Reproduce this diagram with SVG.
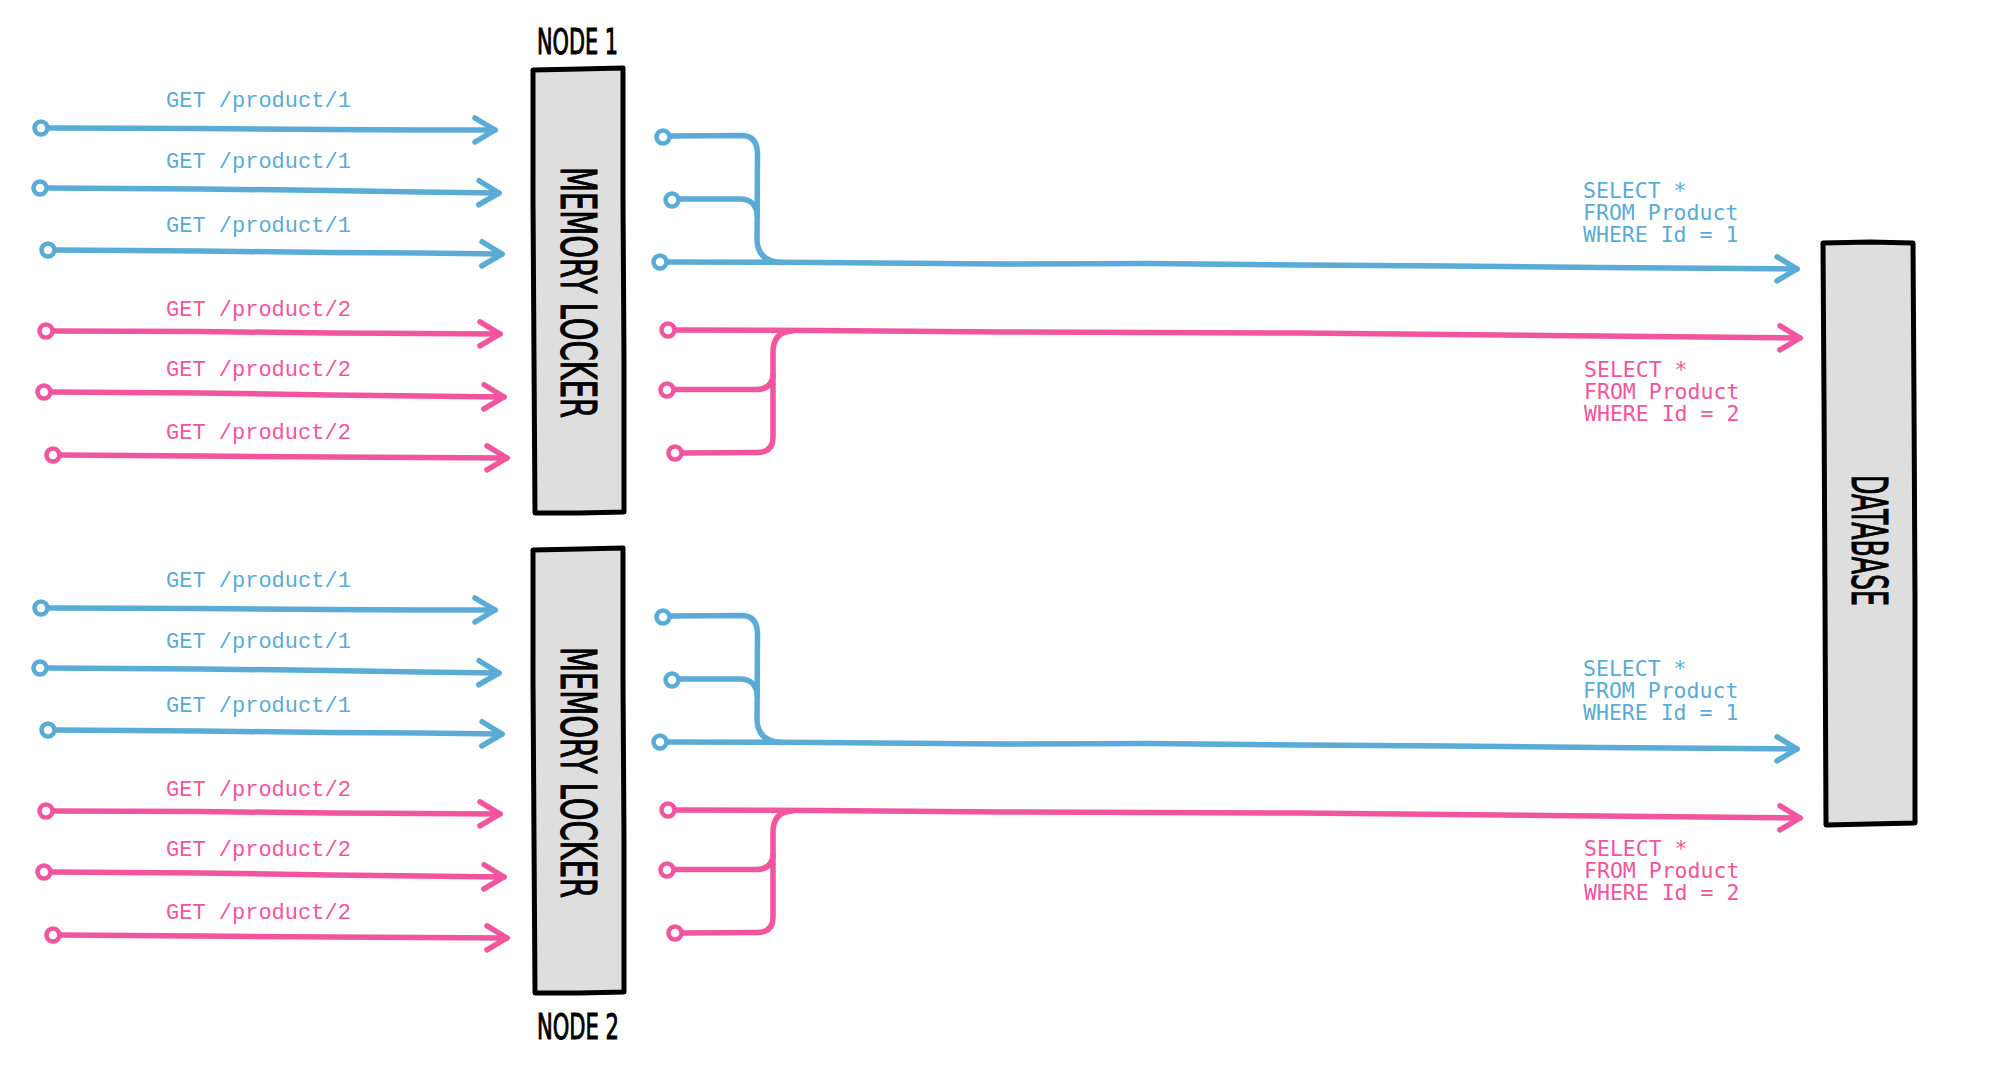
<svg xmlns="http://www.w3.org/2000/svg" width="2000" height="1067" viewBox="0 0 2000 1067">
<defs>
<style>
.b{stroke:#5aabd6}
.p{stroke:#f0559e}
.ln{fill:none;stroke-width:5.5;stroke-linecap:round;stroke-linejoin:round}
.dot{fill:#fff;stroke-width:4.5}
.box{fill:#dedede;stroke:#000;stroke-width:5;stroke-linejoin:round}
.get{font-family:"Liberation Mono","DejaVu Sans Mono",monospace;font-size:22px}
.sql{font-family:"DejaVu Sans Mono","Liberation Mono",monospace;font-size:21.5px}
.tb{fill:#5aabd6}
.tp{fill:#f0559e}
.hand{font-family:"DejaVu Sans","Liberation Sans",sans-serif;font-stretch:condensed;font-weight:normal;fill:#000;stroke:#000;stroke-width:1}
</style>
<marker id="ab" markerUnits="userSpaceOnUse" markerWidth="40" markerHeight="40" viewBox="-30 -20 40 40" refX="0" refY="0" orient="auto" overflow="visible">
<path d="M-20,-12 L0,0 L-20,12" fill="none" stroke="#5aabd6" stroke-width="5.5" stroke-linecap="round" stroke-linejoin="round"/>
</marker>
<marker id="ap" markerUnits="userSpaceOnUse" markerWidth="40" markerHeight="40" viewBox="-30 -20 40 40" refX="0" refY="0" orient="auto" overflow="visible">
<path d="M-20,-12 L0,0 L-20,12" fill="none" stroke="#f0559e" stroke-width="5.5" stroke-linecap="round" stroke-linejoin="round"/>
</marker>
</defs>
<rect width="2000" height="1067" fill="#fff"/>

<g id="node1">
<path class="box" d="M533,70 L580,69 L623,68 L623,200 L624,360 L624,512 L580,513 L535,513 L534,360 L533,200 Z"/>
<text class="hand" x="537" y="54" font-size="36" textLength="81" lengthAdjust="spacingAndGlyphs">NODE 1</text>
<text class="hand" transform="translate(561,292.5) rotate(90)" text-anchor="middle" font-size="49" textLength="251" lengthAdjust="spacingAndGlyphs">MEMORY LOCKER</text>
</g>

<g id="node2">
<path class="box" d="M533,550 L580,549 L623,548 L623,680 L624,840 L624,992 L580,993 L535,993 L534,840 L533,680 Z"/>
<text class="hand" x="537" y="1039" font-size="36" textLength="82" lengthAdjust="spacingAndGlyphs">NODE 2</text>
<text class="hand" transform="translate(561,772.5) rotate(90)" text-anchor="middle" font-size="49" textLength="251" lengthAdjust="spacingAndGlyphs">MEMORY LOCKER</text>
</g>

<g id="database">
<path class="box" d="M1823,243 L1870,242 L1913,243 L1914,400 L1915,600 L1915,823 L1870,824 L1826,825 L1825,600 L1824,400 Z"/>
<text class="hand" transform="translate(1852,540.5) rotate(90)" text-anchor="middle" font-size="49" textLength="131" lengthAdjust="spacingAndGlyphs">DATABASE</text>
</g>

<g id="connectors">
<g id="group1">
<path class="ln b" marker-end="url(#ab)" d="M48,128 L200,128.5 L330,129.5 L420,130 L495,130"/>
<path class="ln b" marker-end="url(#ab)" d="M47,188 L200,189 L330,190.5 L420,192 L499,193"/>
<path class="ln b" marker-end="url(#ab)" d="M55,250 L200,251 L330,252.5 L420,253 L502,254"/>
<path class="ln p" marker-end="url(#ap)" d="M53,331 L200,331.5 L330,333 L420,333.5 L500,334"/>
<path class="ln p" marker-end="url(#ap)" d="M51,392 L200,393 L330,395 L420,396 L504,397"/>
<path class="ln p" marker-end="url(#ap)" d="M60,455 L200,456 L330,457 L420,457.5 L507,458"/>
<circle class="dot b" cx="41" cy="128" r="6.5"/>
<circle class="dot b" cx="40" cy="188" r="6.5"/>
<circle class="dot b" cx="48" cy="250" r="6.5"/>
<circle class="dot p" cx="46" cy="331" r="6.5"/>
<circle class="dot p" cx="44" cy="392" r="6.5"/>
<circle class="dot p" cx="53" cy="455" r="6.5"/>
<text class="get tb" x="166" y="107">GET /product/1</text>
<text class="get tb" x="166" y="168">GET /product/1</text>
<text class="get tb" x="166" y="232">GET /product/1</text>
<text class="get tp" x="166" y="316">GET /product/2</text>
<text class="get tp" x="166" y="376">GET /product/2</text>
<text class="get tp" x="166" y="439">GET /product/2</text>

<path class="ln b" d="M670,136 L742,135.5 Q757,136 757.5,153 L757,240 Q758,262 782,262.5"/>
<path class="ln b" d="M679,199 L740,199 Q756,199 757.5,216"/>
<path class="ln b" marker-end="url(#ab)" d="M667,262 L820,262.5 L1000,264 L1150,263.5 L1300,265 L1450,266 L1600,267.5 L1797,269"/>
<path class="ln p" marker-end="url(#ap)" d="M675,330 L820,330.5 L1000,332 L1150,332.5 L1300,333 L1450,334.5 L1600,336 L1800,338"/>
<path class="ln p" d="M792,331 Q773,332 773,352 L773,437 Q773,452.5 757,452.5 L682,453"/>
<path class="ln p" d="M674,389.5 L757,389.5 Q772,389 773,375"/>
<circle class="dot b" cx="663" cy="137" r="6.5"/>
<circle class="dot b" cx="672" cy="200" r="6.5"/>
<circle class="dot b" cx="660" cy="262" r="6.5"/>
<circle class="dot p" cx="668" cy="330" r="6.5"/>
<circle class="dot p" cx="667" cy="390" r="6.5"/>
<circle class="dot p" cx="675" cy="453" r="6.5"/>

<text class="sql tb" x="1583" y="198">SELECT *</text>
<text class="sql tb" x="1583" y="220">FROM Product</text>
<text class="sql tb" x="1583" y="242">WHERE Id = 1</text>
<text class="sql tp" x="1584" y="377">SELECT *</text>
<text class="sql tp" x="1584" y="399">FROM Product</text>
<text class="sql tp" x="1584" y="421">WHERE Id = 2</text>
</g>

<g id="group2" transform="translate(0,480)">
<path class="ln b" marker-end="url(#ab)" d="M48,128 L200,128.5 L330,129.5 L420,130 L495,130"/>
<path class="ln b" marker-end="url(#ab)" d="M47,188 L200,189 L330,190.5 L420,192 L499,193"/>
<path class="ln b" marker-end="url(#ab)" d="M55,250 L200,251 L330,252.5 L420,253 L502,254"/>
<path class="ln p" marker-end="url(#ap)" d="M53,331 L200,331.5 L330,333 L420,333.5 L500,334"/>
<path class="ln p" marker-end="url(#ap)" d="M51,392 L200,393 L330,395 L420,396 L504,397"/>
<path class="ln p" marker-end="url(#ap)" d="M60,455 L200,456 L330,457 L420,457.5 L507,458"/>
<circle class="dot b" cx="41" cy="128" r="6.5"/>
<circle class="dot b" cx="40" cy="188" r="6.5"/>
<circle class="dot b" cx="48" cy="250" r="6.5"/>
<circle class="dot p" cx="46" cy="331" r="6.5"/>
<circle class="dot p" cx="44" cy="392" r="6.5"/>
<circle class="dot p" cx="53" cy="455" r="6.5"/>
<text class="get tb" x="166" y="107">GET /product/1</text>
<text class="get tb" x="166" y="168">GET /product/1</text>
<text class="get tb" x="166" y="232">GET /product/1</text>
<text class="get tp" x="166" y="316">GET /product/2</text>
<text class="get tp" x="166" y="376">GET /product/2</text>
<text class="get tp" x="166" y="439">GET /product/2</text>

<path class="ln b" d="M670,136 L742,135.5 Q757,136 757.5,153 L757,240 Q758,262 782,262.5"/>
<path class="ln b" d="M679,199 L740,199 Q756,199 757.5,216"/>
<path class="ln b" marker-end="url(#ab)" d="M667,262 L820,262.5 L1000,264 L1150,263.5 L1300,265 L1450,266 L1600,267.5 L1797,269"/>
<path class="ln p" marker-end="url(#ap)" d="M675,330 L820,330.5 L1000,332 L1150,332.5 L1300,333 L1450,334.5 L1600,336 L1800,338"/>
<path class="ln p" d="M792,331 Q773,332 773,352 L773,437 Q773,452.5 757,452.5 L682,453"/>
<path class="ln p" d="M674,389.5 L757,389.5 Q772,389 773,375"/>
<circle class="dot b" cx="663" cy="137" r="6.5"/>
<circle class="dot b" cx="672" cy="200" r="6.5"/>
<circle class="dot b" cx="660" cy="262" r="6.5"/>
<circle class="dot p" cx="668" cy="330" r="6.5"/>
<circle class="dot p" cx="667" cy="390" r="6.5"/>
<circle class="dot p" cx="675" cy="453" r="6.5"/>

<text class="sql tb" x="1583" y="196">SELECT *</text>
<text class="sql tb" x="1583" y="218">FROM Product</text>
<text class="sql tb" x="1583" y="240">WHERE Id = 1</text>
<text class="sql tp" x="1584" y="376">SELECT *</text>
<text class="sql tp" x="1584" y="398">FROM Product</text>
<text class="sql tp" x="1584" y="420">WHERE Id = 2</text>
</g>
</g>
</svg>
